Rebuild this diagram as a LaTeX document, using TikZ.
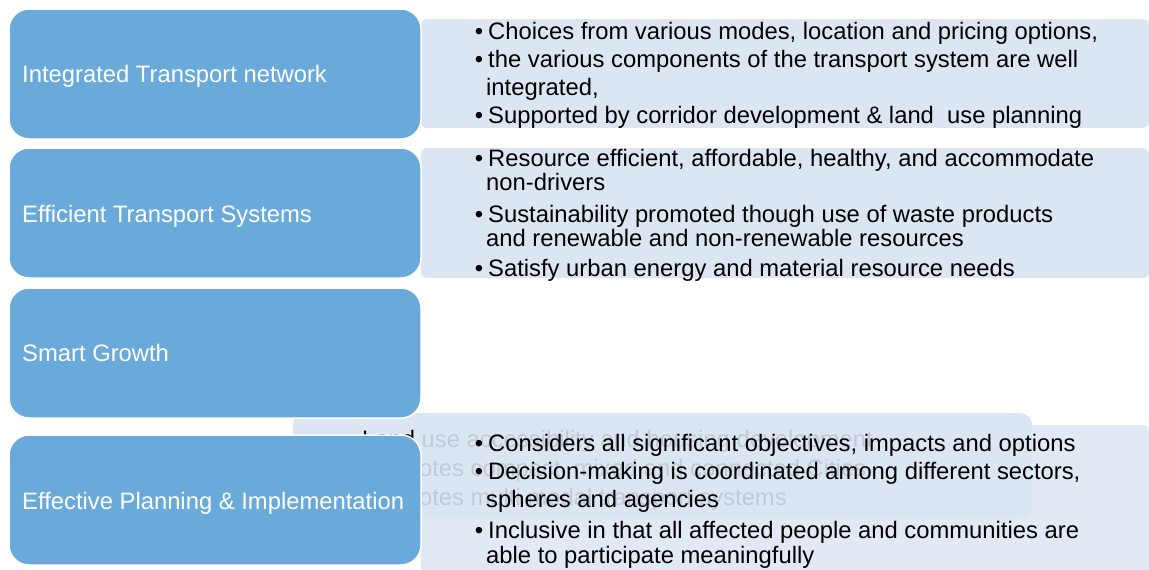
\documentclass[tikz,border=0pt]{standalone}
\usepackage{fontspec}
\setmainfont{Liberation Sans}
\definecolor{blu}{HTML}{6AAADB}
\definecolor{lite}{HTML}{DCE6F2}
\begin{document}
\begin{tikzpicture}[x=1pt,y=-1pt,
  bluebox/.style={draw=white, line width=1.5pt, fill=blu, rounded corners=20pt, minimum width=412pt, minimum height=130pt, inner sep=0},
  litebox/.style={fill=lite, rounded corners=6pt, inner sep=0},
  lbl/.style={anchor=base west, inner sep=0, text=white, font=\fontsize{23.8}{26}\selectfont},
  txt/.style={anchor=base west, inner sep=0, text=black, font=\fontsize{23.8}{26}\selectfont},
  bul/.style={anchor=base, inner sep=0, text=black, font=\fontsize{23.8}{26}\selectfont}]
\useasboundingbox (0,0) rectangle (1149,570);
% light boxes
\node[litebox, minimum width=728pt, minimum height=109pt] (L1) at (785,73.5) {};
\node[litebox, minimum width=728pt, minimum height=130pt] (L2) at (785,213) {};
\node[litebox, rounded corners=12pt, minimum width=739pt, minimum height=105pt] (G) at (662.5,465.5) {};
% ghost text (behind)
\node[txt] (g1) at (362,447) {Land use accessibility and housing development};
\node[txt] (g2) at (362,476) {Promotes compact, mixed and connected Cities};
\node[txt] (g3) at (362,505) {Promotes multi modal transport systems};
\node[litebox, fill opacity=0.88, minimum width=728pt, minimum height=160pt] (L4) at (785,505) {};
% blue boxes
\node[bluebox] (B1) at (215,74) {};
\node[bluebox] (B2) at (215,213) {};
\node[bluebox] (B3) at (215,353) {};
\node[bluebox] (B4) at (215,500) {};
\node[lbl] (t1) at (22,82) {Integrated Transport network};
\node[lbl] (t2) at (22,222) {Efficient Transport Systems};
\node[lbl] (t3) at (22,361) {Smart Growth};
\node[lbl] (t4) at (22,509) {Effective Planning \& Implementation};
% box 1 text
\node[bul] (d11) at (479,39) {•};
\node[txt] (a11) at (488,39) {Choices from various modes, location and pricing options,};
\node[bul] (d12) at (479,67) {•};
\node[txt] (a12) at (488,67) {the various components of the transport system are well};
\node[txt] (a13) at (486,95) {integrated,};
\node[bul] (d14) at (479,123) {•};
\node[txt] (a14) at (488,123) {Supported by corridor development \& land~ use planning};
% box 2 text
\node[bul] (d21) at (479,166) {•};
\node[txt] (a21) at (488,166) {Resource efficient, affordable, healthy, and accommodate};
\node[txt] (a22) at (486,190) {non-drivers};
\node[bul] (d23) at (479,222) {•};
\node[txt] (a23) at (488,222) {Sustainability promoted though use of waste products};
\node[txt] (a24) at (486,246) {and renewable and non-renewable resources};
\node[bul] (d25) at (479,276) {•};
\node[txt] (a25) at (488,276) {Satisfy urban energy and material resource needs};
% box 4 text
\node[bul] (d41) at (479,451) {•};
\node[txt] (a41) at (488,451) {Considers all significant objectives, impacts and options};
\node[bul] (d42) at (479,479) {•};
\node[txt] (a42) at (488,479) {Decision-making is coordinated among different sectors,};
\node[txt] (a43) at (486,507) {spheres and agencies};
\node[bul] (d44) at (479,538) {•};
\node[txt] (a44) at (488,538) {Inclusive in that all affected people and communities are};
\node[txt] (a45) at (486,563) {able to participate meaningfully};
\end{tikzpicture}
\end{document}
